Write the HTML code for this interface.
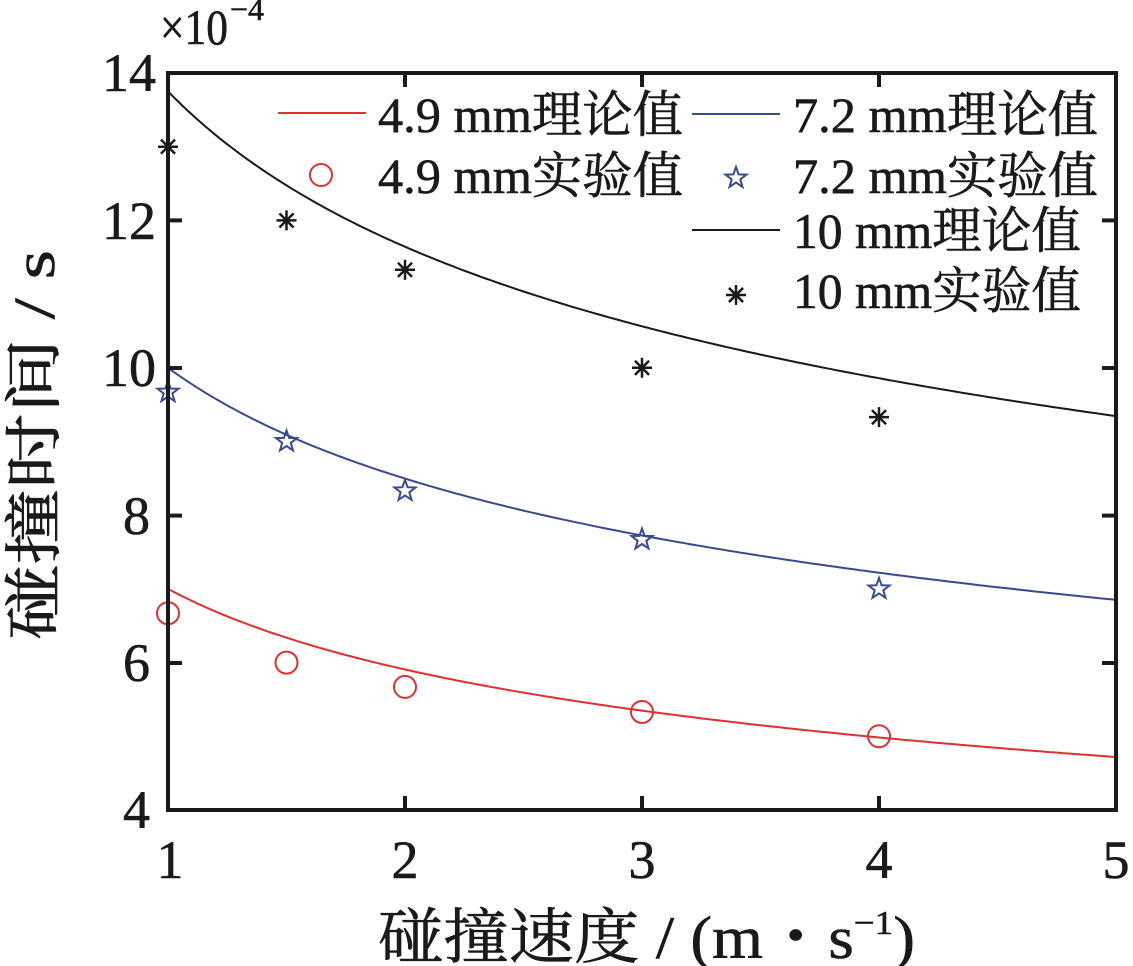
<!DOCTYPE html>
<html><head><meta charset="utf-8"><style>
html,body{margin:0;padding:0;background:#fff;}
svg{display:block;}
text{font-family:"Liberation Serif","Noto Serif CJK SC",serif;fill:#1a1a1a;stroke:#1a1a1a;stroke-width:0.6;}
</style></head><body>
<svg id="s" width="1133" height="966" viewBox="0 0 1133 966" xmlns="http://www.w3.org/2000/svg">
<g id="curves" fill="none" stroke-width="2"></g>
<g id="marks"></g>
<path d="M168,73 L1116,73 L1116,810 L168,810 Z" fill="none" stroke="#1a1a1a" stroke-width="4"/>
<g stroke="#1a1a1a" stroke-width="4">
<line x1="405" y1="810" x2="405" y2="796"/><line x1="642" y1="810" x2="642" y2="796"/><line x1="879" y1="810" x2="879" y2="796"/>
<line x1="405" y1="73" x2="405" y2="87"/><line x1="642" y1="73" x2="642" y2="87"/><line x1="879" y1="73" x2="879" y2="87"/>
<line x1="168" y1="663" x2="182" y2="663"/><line x1="168" y1="515.6" x2="182" y2="515.6"/><line x1="168" y1="368" x2="182" y2="368"/><line x1="168" y1="220.4" x2="182" y2="220.4"/>
<line x1="1116" y1="663" x2="1102" y2="663"/><line x1="1116" y1="515.6" x2="1102" y2="515.6"/><line x1="1116" y1="368" x2="1102" y2="368"/><line x1="1116" y1="220.4" x2="1102" y2="220.4"/>
</g>
<g font-size="54" text-anchor="end">
<text x="150" y="828">4</text><text x="150" y="681">6</text><text x="150" y="534">8</text><text x="156" y="386">10</text><text x="156" y="239">12</text><text x="156" y="91">14</text>
</g>
<g font-size="54" text-anchor="middle">
<text x="170" y="878">1</text><text x="405" y="878">2</text><text x="642" y="878">3</text><text x="879" y="878">4</text><text x="1116" y="878">5</text>
</g>
<text x="160" y="44" font-size="50" textLength="68" lengthAdjust="spacingAndGlyphs">×10</text><text x="230" y="20" font-size="32">−4</text>
<text x="378" y="958" font-size="60" textLength="537" lengthAdjust="spacingAndGlyphs">碰撞速度 / (m・s<tspan font-size="34" dy="-24">−1</tspan><tspan dy="24">)</tspan></text>
<text transform="translate(54,445) rotate(-90)" font-size="58" text-anchor="middle" textLength="390" lengthAdjust="spacingAndGlyphs">碰撞时间 / s</text>
<g font-size="50">
<line x1="278" y1="113" x2="366" y2="113" stroke="#e03030" stroke-width="2"/>
<text x="378" y="132" textLength="305" lengthAdjust="spacingAndGlyphs">4.9 mm理论值</text>
<circle cx="321" cy="175" r="11" fill="none" stroke="#e03030" stroke-width="2"/>
<text x="378" y="193" textLength="305" lengthAdjust="spacingAndGlyphs">4.9 mm实验值</text>
<line x1="692" y1="114" x2="780" y2="114" stroke="#3a4a90" stroke-width="2"/>
<text x="793" y="132" textLength="305" lengthAdjust="spacingAndGlyphs">7.2 mm理论值</text>
<text x="793" y="193" textLength="305" lengthAdjust="spacingAndGlyphs">7.2 mm实验值</text>
<line x1="692" y1="230" x2="780" y2="230" stroke="#1a1a1a" stroke-width="2"/>
<text x="793" y="248" textLength="288" lengthAdjust="spacingAndGlyphs">10 mm理论值</text>
<text x="793" y="308" textLength="288" lengthAdjust="spacingAndGlyphs">10 mm实验值</text>
</g>
</svg>
<script>
var X=function(v){return 168+(v-1)*237;},Y=function(t){return 810-(t-4)*73.7;};
var ns="http://www.w3.org/2000/svg";
function el(tag,a,p){var e=document.createElementNS(ns,tag);for(var k in a)e.setAttribute(k,a[k]);(p||document.getElementById('marks')).appendChild(e);return e;}
[[7.0,0.245,"#e03030"],[10.0,0.235,"#3a4a90"],[13.75,0.24,"#1a1a1a"]].forEach(function(c){
 var d="";for(var v=1;v<=5.0001;v+=0.02){d+=(d?"L":"M")+X(v).toFixed(1)+","+Y(c[0]*Math.pow(v,-c[1])).toFixed(1);}
 el("path",{d:d,stroke:c[2]},document.getElementById('curves'));});
var vs=[1,1.5,2,3,4];
[6.67,6.0,5.67,5.33,5.0].forEach(function(t,i){el("circle",{cx:X(vs[i]),cy:Y(t),r:11,fill:"none",stroke:"#e03030","stroke-width":2});});
function star(cx,cy){var p="";for(var i=0;i<10;i++){var r=i%2?4.5:11,a=-Math.PI/2+i*Math.PI/5;p+=(i?"L":"M")+(cx+r*Math.cos(a)).toFixed(1)+","+(cy+r*Math.sin(a)).toFixed(1);}el("path",{d:p+"Z",fill:"none",stroke:"#3a4a90","stroke-width":2});}
[9.67,9.0,8.33,7.67,7.0].forEach(function(t,i){star(X(vs[i]),Y(t));});
star(736,178);
function ast(cx,cy){var d="";for(var i=0;i<4;i++){var a=i*Math.PI/4;d+="M"+(cx-10*Math.cos(a))+","+(cy-10*Math.sin(a))+"L"+(cx+10*Math.cos(a))+","+(cy+10*Math.sin(a));}el("path",{d:d,stroke:"#1a1a1a","stroke-width":2.5});}
[13,12,11.33,10,9.33].forEach(function(t,i){ast(X(vs[i]),Y(t));});
ast(736,295);
</script>
</body></html>
